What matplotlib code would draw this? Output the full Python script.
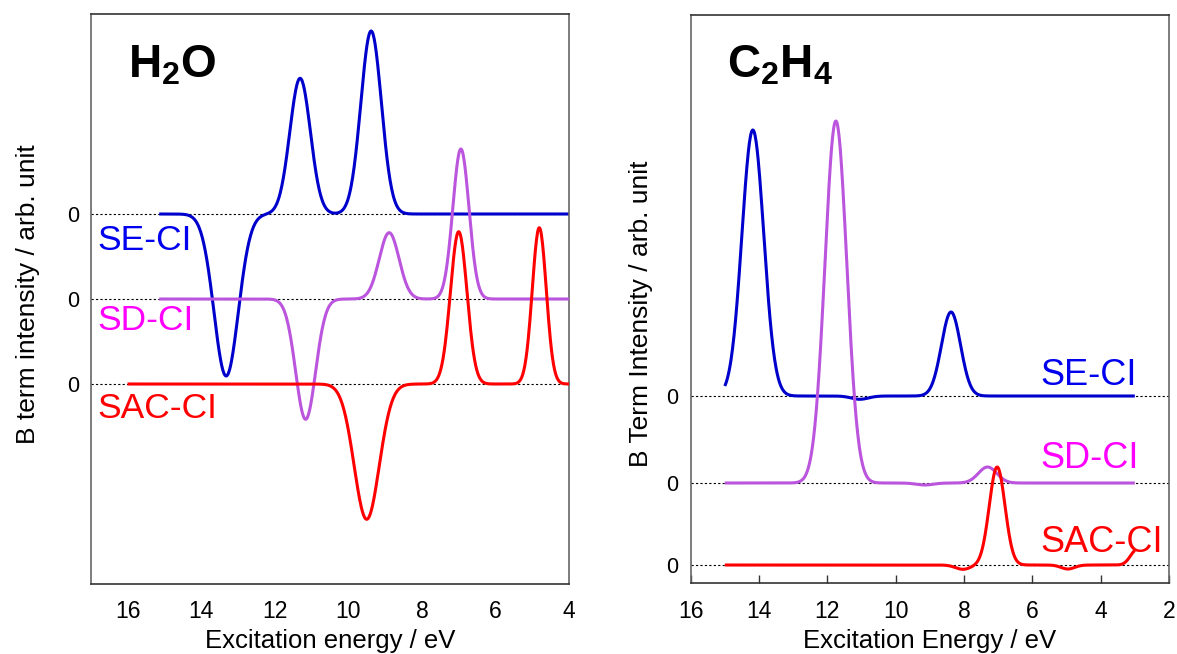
import numpy as np
import matplotlib
matplotlib.use('Agg')
import matplotlib.pyplot as plt

plt.rcParams['font.family'] = ['Liberation Sans', 'DejaVu Sans']
plt.rcParams['mathtext.fontset'] = 'custom'
plt.rcParams['mathtext.rm'] = 'Liberation Sans'
plt.rcParams['mathtext.bf'] = 'Liberation Sans:bold'

methods = ['SE-CI', 'SD-CI', 'SAC-CI']

# ---------------- H2O : bands ----------------
# energy (eV), signed B-term height (arb.), gaussian width (eV)
h2o_se_energy = [13.32, 11.31, 9.38]
h2o_se_height = [-1.62, 1.357, 1.83]
h2o_se_width = [0.33, 0.28, 0.28]

h2o_sd_energy = [11.16, 8.89, 6.94]
h2o_sd_height = [-1.203, 0.663, 1.50]
h2o_sd_width = [0.27, 0.27, 0.22]

h2o_sac_energy = [9.50, 7.00, 4.81]
h2o_sac_height = [-1.353, 1.523, 1.563]
h2o_sac_width = [0.34, 0.225, 0.19]

h2o_start = [15.14, 15.14, 16.0]
h2o_end = [4.0, 4.0, 4.0]

# ---------------- C2H4 : bands ----------------
c2h4_se_energy = [14.18, 11.05, 8.38]
c2h4_se_height = [2.66, -0.033, 0.84]
c2h4_se_width = [0.32, 0.25, 0.28]

c2h4_sd_energy = [11.75, 9.15, 7.31]
c2h4_sd_height = [3.62, -0.02, 0.16]
c2h4_sd_width = [0.32, 0.25, 0.27]

c2h4_sac_energy = [8.03, 7.03, 4.96, 2.95]
c2h4_sac_height = [-0.043, 0.98, -0.04, 0.15]
c2h4_sac_width = [0.22, 0.23, 0.20, 0.18]

c2h4_start = [15.0, 15.0, 15.0]
c2h4_end = [3.0, 3.0, 3.0]

x_ticks_h2o = [16, 14, 12, 10, 8, 6, 4]
x_ticks_c2h4 = [16, 14, 12, 10, 8, 6, 4, 2]

# ---------------- styling ----------------
line_colors = ['#0000CC', '#BB55DD', '#FF0000']
label_colors = ['#0000EE', '#FF00FF', '#FF0000']
h2o_offsets = [1.70, 0.85, 0.0]
c2h4_offsets = [1.69, 0.82, 0.0]


def spectrum(x, energies, heights, widths):
    y = np.zeros_like(x)
    for e, h, w in zip(energies, heights, widths):
        y += h * np.exp(-0.5 * ((x - e) / w) ** 2)
    return y


fig = plt.figure(figsize=(11.77, 6.54), dpi=100)
ax1 = fig.add_axes([0.0771, 0.1075, 0.4064, 0.8711])
ax2 = fig.add_axes([0.5868, 0.1081, 0.4064, 0.8682])

h2o_bands = [(h2o_se_energy, h2o_se_height, h2o_se_width),
             (h2o_sd_energy, h2o_sd_height, h2o_sd_width),
             (h2o_sac_energy, h2o_sac_height, h2o_sac_width)]
c2h4_bands = [(c2h4_se_energy, c2h4_se_height, c2h4_se_width),
              (c2h4_sd_energy, c2h4_sd_height, c2h4_sd_width),
              (c2h4_sac_energy, c2h4_sac_height, c2h4_sac_width)]

# ---------- left panel ----------
ax1.set_xlim(17, 4)
ax1.set_ylim(-1.997, 3.70)
for off in h2o_offsets:
    ax1.axhline(off, color='black', lw=0.8, ls=(0, (2, 2)), zorder=1)
for i, (bands, off) in enumerate(zip(h2o_bands, h2o_offsets)):
    x = np.linspace(h2o_start[i], h2o_end[i], 800)
    ax1.plot(x, off + spectrum(x, *bands), color=line_colors[i], lw=2.2,
             zorder=2 + i, solid_capstyle='butt')

label_pos_h2o = [(16.81, 1.34), (16.81, 0.54), (16.81, -0.34)]
for i, m in enumerate(methods):
    ax1.text(*label_pos_h2o[i], m, color=label_colors[i], fontsize=25.5,
             ha='left', va='baseline', zorder=10)
ax1.text(0.0786, 0.889, r'$\mathbf{H_2O}$', transform=ax1.transAxes,
         fontsize=33, ha='left', va='baseline')

ax1.set_xticks(x_ticks_h2o)
ax1.set_xticklabels([str(t) for t in x_ticks_h2o])
ax1.tick_params(axis='x', length=0, pad=11.5, labelsize=16.5)
ax1.set_yticks(h2o_offsets)
ax1.set_yticklabels(['0'] * 3)
ax1.tick_params(axis='y', length=0, pad=8.6, labelsize=15.5)
ax1.set_xlabel('Excitation energy / eV', fontsize=18.5)
ax1.xaxis.set_label_coords(0.5, -0.080)
ax1.set_ylabel('B term intensity / arb. unit', fontsize=19)
ax1.yaxis.set_label_coords(-0.107, 0.5076)

# ---------- right panel ----------
ax2.set_xlim(16, 2)
ax2.set_ylim(-0.183, 5.495)
for off in c2h4_offsets:
    ax2.axhline(off, color='black', lw=0.8, ls=(0, (2, 2)), zorder=1)
for i, (bands, off) in enumerate(zip(c2h4_bands, c2h4_offsets)):
    x = np.linspace(c2h4_start[i], c2h4_end[i], 800)
    ax2.plot(x, off + spectrum(x, *bands), color=line_colors[i], lw=2.2,
             zorder=2 + i, solid_capstyle='butt')

label_pos_c2h4 = [(5.77, 1.80), (5.77, 0.97), (5.77, 0.133)]
for i, m in enumerate(methods):
    ax2.text(*label_pos_c2h4[i], m, color=label_colors[i], fontsize=26,
             ha='left', va='baseline', zorder=10)
ax2.text(0.0765, 0.891, r'$\mathbf{C_2H_4}$', transform=ax2.transAxes,
         fontsize=33, ha='left', va='baseline')

ax2.set_xticks(x_ticks_c2h4)
ax2.set_xticklabels([str(t) for t in x_ticks_c2h4])
ax2.tick_params(axis='x', direction='in', length=6, width=1.0, pad=12,
                labelsize=16.5, color='#333333')
ax2.set_yticks(c2h4_offsets)
ax2.set_yticklabels(['0'] * 3)
ax2.tick_params(axis='y', length=0, pad=8.8, labelsize=15.5)
ax2.set_xlabel('Excitation Energy / eV', fontsize=18.5)
ax2.xaxis.set_label_coords(0.5, -0.080)
ax2.set_ylabel('B Term Intensity / arb. unit', fontsize=19)
ax2.yaxis.set_label_coords(-0.078, 0.474)

for ax in (ax1, ax2):
    for name, sp in ax.spines.items():
        sp.set_linewidth(1.2)
        sp.set_color('#333333' if name in ('top', 'bottom') else '#666666')

fig.savefig('out.png', dpi=100)
